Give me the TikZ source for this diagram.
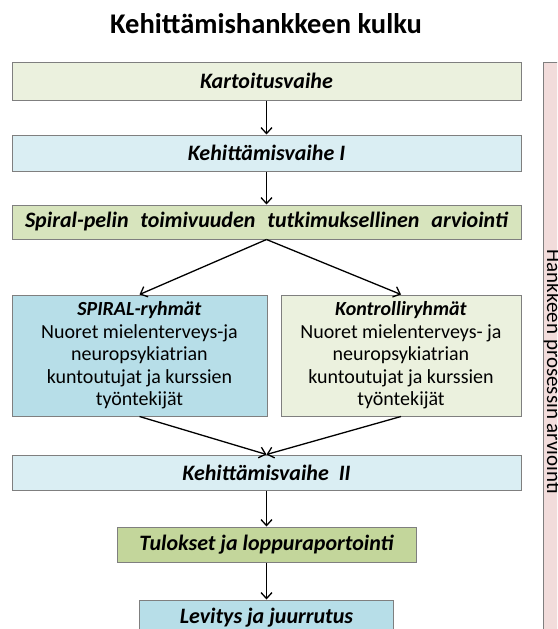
\documentclass[tikz,border=0pt]{standalone}
\usepackage{fontspec}
\setmainfont{Carlito}
\usetikzlibrary{shapes, arrows.meta}

\definecolor{vaaleanvihrea}{HTML}{EBF1DE}
\definecolor{vihrea}{HTML}{D7E4BD}
\definecolor{oliivi}{HTML}{C3D69B}
\definecolor{vaaleansininen}{HTML}{DAEEF3}
\definecolor{sininen}{HTML}{B7DEE8}
\definecolor{roosa}{HTML}{F2DCDB}
\definecolor{reuna}{HTML}{7F7F7F}

\begin{document}
\begin{tikzpicture}[x=1pt, y=-1pt, node distance = 72pt]

\tikzstyle{box} = [rectangle, text centered, draw=reuna, line width=1pt, inner sep=0pt, minimum height=36pt]
\tikzstyle{phase} = [box, minimum width=509pt, font=\fontsize{22}{26}\selectfont\bfseries\itshape]
\tikzstyle{group} = [box, minimum height=121pt, align=center, font=\fontsize{20}{22.5}\selectfont]
\tikzstyle{arrow} = [line width=1.3pt, -{Straight Barb[length=6pt,width=11pt]}]

\useasboundingbox (0,0) rectangle (557,629);
\clip (0,0) rectangle (557,629);

\node (title) at (266,24) {\fontsize{28.5}{32}\selectfont\bfseries Kehittämishankkeen kulku};

\node (kartoitus) [phase, fill=vaaleanvihrea, minimum height=38pt] at (266.5,81) {Kartoitusvaihe};
\node (vaihe1) [phase, fill=vaaleansininen, below of=kartoitus] {Kehittämisvaihe I};
\node (arviointi) [phase, fill=vihrea, minimum height=34pt, below of=vaihe1, node distance=69pt] {\makebox[483pt][s]{Spiral-pelin toimivuuden tutkimuksellinen arviointi}};
\node (spiral) [group, fill=sininen, minimum width=255pt] at (139.5,355.5) {\textbf{\textit{SPIRAL-ryhmät}}\\Nuoret mielenterveys-ja\\neuropsykiatrian\\kuntoutujat ja kurssien\\työntekijät};
\node (kontrolli) [group, fill=vaaleanvihrea, minimum width=240pt] at (401,355.5) {\textbf{\textit{Kontrolliryhmät}}\\Nuoret mielenterveys- ja\\neuropsykiatrian\\kuntoutujat ja kurssien\\työntekijät};
\node (vaihe2) [phase, fill=vaaleansininen, minimum height=35pt] at (266.5,472.5) {Kehittämisvaihe\ \ II};
\node (tulokset) [phase, fill=oliivi, minimum width=299pt, minimum height=35pt, below of=vaihe2] {Tulokset ja loppuraportointi};
\node (levitys) [phase, fill=sininen, minimum width=254pt, below of=tulokset, node distance=73.5pt] {Levitys ja juurrutus};

\node (prosessi) [box, fill=roosa, minimum width=60pt, minimum height=640pt] at (573,382) {};
\node (prosessiteksti) [rotate=-90, anchor=base, font=\fontsize{21}{25}\selectfont] at (547,372) {Hankkeen prosessin arviointi};

\draw [arrow] (kartoitus) -- (vaihe1);
\draw [arrow] (vaihe1) -- (arviointi);
\draw [arrow] (arviointi.south) -- (spiral.north);
\draw [arrow] (arviointi.south) -- (kontrolli.north);
\draw [arrow] (spiral.south) -- (vaihe2.north);
\draw [arrow] (kontrolli.south) -- (vaihe2.north);
\draw [arrow] (vaihe2) -- (tulokset);
\draw [arrow] (tulokset) -- (levitys);
\end{tikzpicture}
\end{document}
